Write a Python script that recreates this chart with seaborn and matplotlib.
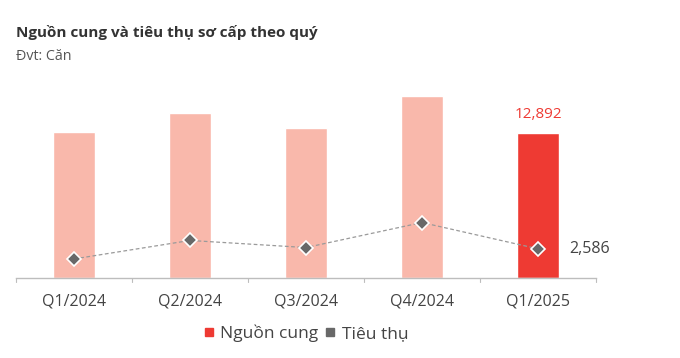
import matplotlib
matplotlib.use("Agg")
import matplotlib.pyplot as plt
import seaborn as sns
import pandas as pd
from matplotlib.lines import Line2D

quarters = ["Q1/2024", "Q2/2024", "Q3/2024", "Q4/2024", "Q1/2025"]
supply = [12920, 14600, 13270, 16170, 12892]
consumption = [1690, 3330, 2700, 4920, 2586]
title = "Nguồn cung và tiêu thụ sơ cấp theo quý"
subtitle = "Đvt: Căn"
legend_labels = ["Nguồn cung", "Tiêu thụ"]

sns.set_style("white")
plt.rcParams['font.family'] = ['Open Sans', 'DejaVu Sans']

LIGHT = "#F9B8AB"
RED = "#EE3A33"
MARK = "#686868"
LINE = "#9A9A9A"
TXT = "#444444"

df = pd.DataFrame({"q": quarters, "supply": supply, "cons": consumption})

fig = plt.figure(figsize=(6.8, 3.58), dpi=100)
ax = fig.add_axes([16/680, 80/358, 580/680, 198/358])

colors = [LIGHT]*4 + [RED]
sns.barplot(data=df, x="q", y="supply", hue="q", palette=colors, legend=False,
            width=0.36, ax=ax, saturation=1)
sns.lineplot(data=df, x="q", y="cons", ax=ax, color=LINE, linestyle=(0, (3, 2)),
             linewidth=0.9, sort=False)
sns.lineplot(data=df, x="q", y="cons", ax=ax, color=MARK, linestyle="", marker="D",
             markersize=7.5, markeredgecolor="white", markeredgewidth=1.2, sort=False)

ax.set_xlim(-0.5, 4.5)
ax.set_ylim(0, 17560)
ax.set_xlabel("")
ax.set_ylabel("")
ax.set_yticks([])
for s in ["top", "right", "left"]:
    ax.spines[s].set_visible(False)
ax.spines["bottom"].set_color("#BDBDBD")
ax.spines["bottom"].set_linewidth(1)
ax.set_xticks(range(len(quarters)))
ax.set_xticklabels(quarters, fontsize=11.5, color=TXT)
ax.tick_params(axis="x", length=0, pad=11)
# boundary ticks
for b in [-0.5, 0.5, 1.5, 2.5, 3.5, 4.5]:
    ax.plot([b, b], [0, -350], color="#BDBDBD", lw=0.8, clip_on=False)

ax.text(4, supply[4] + 900, f"{supply[4]:,}", ha="center", va="bottom",
        color=RED, fontsize=11)
ax.text(4.27, consumption[4], f"{consumption[4]:,}", ha="left", va="center",
        color=TXT, fontsize=11.5)

fig.text(16/680, 1 - 33/358, title, fontsize=11, fontweight="bold", color="#333333",
         ha="left", va="center")
fig.text(16/680, 1 - 56/358, subtitle, fontsize=10.3, color="#555555",
         ha="left", va="center")

handles = [Line2D([], [], marker="s", color=RED, linestyle="", markersize=6),
           Line2D([], [], marker="s", color=MARK, linestyle="", markersize=6)]
leg = fig.legend(handles, legend_labels, loc="center", bbox_to_anchor=(306/680, 1 - 333/358),
                 ncol=2, frameon=False, fontsize=12.5, handlelength=0.6,
                 handletextpad=0.35, columnspacing=0.4)
for t in leg.get_texts():
    t.set_color(TXT)

fig.savefig("out.png", dpi=100)
